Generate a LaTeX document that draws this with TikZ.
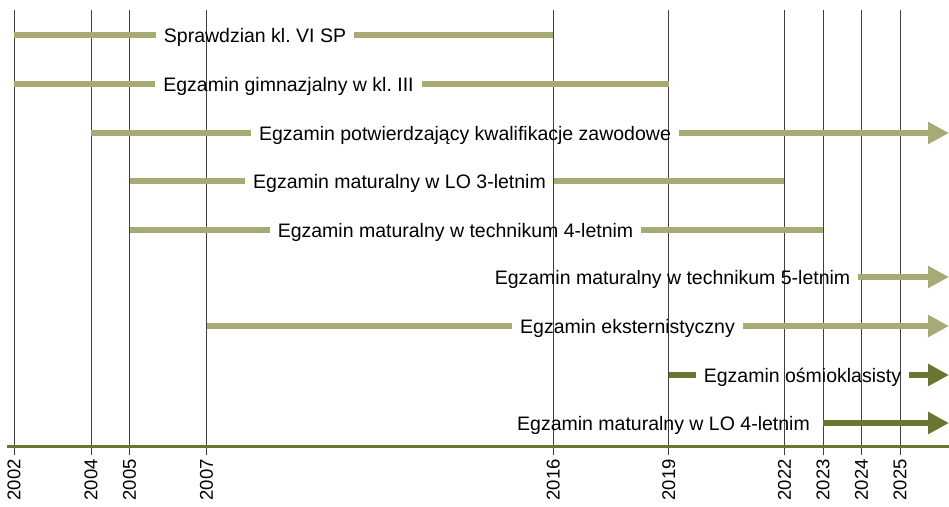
\documentclass[tikz,border=0pt]{standalone}
\usepackage{fontspec}
\setmainfont{Liberation Sans}
\frenchspacing
\usetikzlibrary{arrows.meta}
\definecolor{egzLight}{RGB}{168,170,118}
\definecolor{egzDark}{RGB}{107,117,48}

\begin{document}
\begin{tikzpicture}[
    x=1pt,y=-1pt,
    egzGrid/.style={draw=black!75,line width=0.8pt},
    egzAxis/.style={draw=egzDark,line width=3pt},
    egzBar/.style={draw=egzLight,line width=5.5pt},
    egzBarDark/.style={draw=egzDark,line width=5.5pt},
    egzArrow/.style={-{Triangle[length=21pt,width=21pt]}},
    egzLabel/.style={font=\fontsize{19.5}{22}\selectfont,inner xsep=8pt,
                     inner ysep=0pt,text height=14pt,text depth=0pt},
    egzYear/.style={font=\fontsize{18.5}{20}\selectfont,rotate=90,
                    anchor=east,inner sep=0pt}]
  \useasboundingbox (0,0) rectangle (949,506);

  % Year grid with rotated labels.
  \foreach \yr in {2002,2004,2005,2007,2016,2019,2022,2023,2024,2025}{
    \pgfmathsetmacro{\xx}{14+(\yr-2002)*38.52}
    \coordinate (t\yr) at (\xx,10);
    \coordinate (b\yr) at (\xx,455);
    \draw[egzGrid] (t\yr) -- (b\yr);
    \node[egzYear] (y\yr) at (\xx,459) {\yr};
  }

  % Time axis.
  \coordinate (axL) at (7,446);
  \coordinate (axR) at (949,446);
  \draw[egzAxis] (axL) -- (axR);

  % Sprawdzian: 2002--2016.
  \coordinate (r1s) at (t2002 |- 0,35);
  \coordinate (r1e) at (t2016 |- 0,35);
  \node[egzLabel] (r1l) at (255,35) {Sprawdzian kl. VI SP};
  \draw[egzBar] (r1s) -- (r1l.west) (r1l.east) -- (r1e);

  % Gimnazjum: 2002--2019.
  \coordinate (r2s) at (t2002 |- 0,84);
  \coordinate (r2e) at (t2019 |- 0,84);
  \node[egzLabel] (r2l) at (288.5,84) {Egzamin gimnazjalny w kl. III};
  \draw[egzBar] (r2s) -- (r2l.west) (r2l.east) -- (r2e);

  % Zawodowy: 2004 onwards.
  \coordinate (r3s) at (t2004 |- 0,133);
  \coordinate (r3e) at (949,133);
  \node[egzLabel] (r3l) at (465,133) {Egzamin potwierdzający kwalifikacje zawodowe};
  \draw[egzBar] (r3s) -- (r3l.west);
  \draw[egzBar,egzArrow] (r3l.east) -- (r3e);

  % LO 3-letnie: 2005--2022.
  \coordinate (r4s) at (t2005 |- 0,181);
  \coordinate (r4e) at (t2022 |- 0,181);
  \node[egzLabel] (r4l) at (399.5,181) {Egzamin maturalny w LO 3-letnim};
  \draw[egzBar] (r4s) -- (r4l.west) (r4l.east) -- (r4e);

  % Technikum 4-letnie: 2005--2023.
  \coordinate (r5s) at (t2005 |- 0,230);
  \coordinate (r5e) at (t2023 |- 0,230);
  \node[egzLabel] (r5l) at (455.5,230) {Egzamin maturalny w technikum 4-letnim};
  \draw[egzBar] (r5s) -- (r5l.west) (r5l.east) -- (r5e);

  % Technikum 5-letnie: from 2024.
  \coordinate (r6e) at (949,277);
  \node[egzLabel] (r6l) at (672.5,277) {Egzamin maturalny w technikum 5-letnim};
  \draw[egzBar,egzArrow] (r6l.east) -- (r6e);

  % Eksternistyczny: 2007 onwards.
  \coordinate (r7s) at (t2007 |- 0,326);
  \coordinate (r7e) at (949,326);
  \node[egzLabel] (r7l) at (627.5,326) {Egzamin eksternistyczny};
  \draw[egzBar] (r7s) -- (r7l.west);
  \draw[egzBar,egzArrow] (r7l.east) -- (r7e);

  % Ośmioklasista: 2019 onwards.
  \coordinate (r8s) at (t2019 |- 0,375);
  \coordinate (r8e) at (949,375);
  \node[egzLabel] (r8l) at (802.5,375) {Egzamin ośmioklasisty};
  \draw[egzBarDark] (r8s) -- (r8l.west);
  \draw[egzBarDark,egzArrow] (r8l.east) -- (r8e);

  % LO 4-letnie: from 2023.
  \coordinate (r9s) at (t2023 |- 0,423);
  \coordinate (r9e) at (949,423);
  \node[egzLabel] (r9l) at (663.5,423) {Egzamin maturalny w LO 4-letnim};
  \draw[egzBarDark,egzArrow] (r9s) -- (r9e);

\end{tikzpicture}
\end{document}
